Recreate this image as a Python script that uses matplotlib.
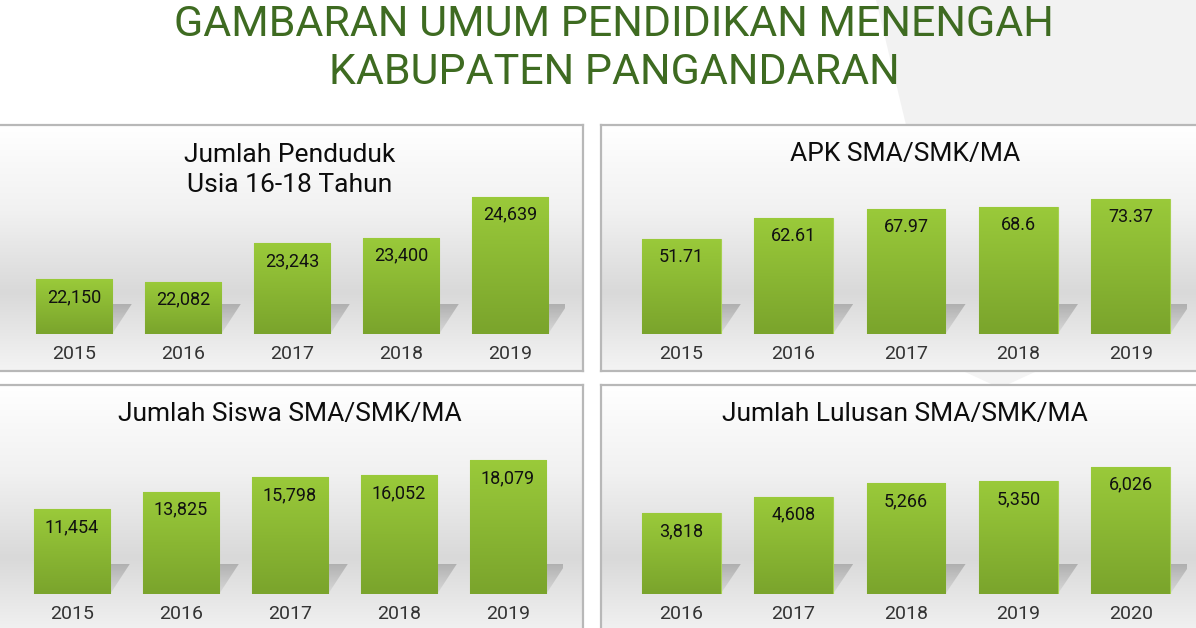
import numpy as np
import matplotlib
matplotlib.use("Agg")
import matplotlib.pyplot as plt
from matplotlib.colors import LinearSegmentedColormap
from matplotlib.patches import Polygon

plt.rcParams['font.family'] = ['Roboto', 'DejaVu Sans']

# ---- data ----
title_lines = ["GAMBARAN UMUM PENDIDIKAN MENENGAH", "KABUPATEN PANGANDARAN"]

penduduk_title = "Jumlah Penduduk\nUsia 16-18 Tahun"
penduduk_years = ["2015", "2016", "2017", "2018", "2019"]
penduduk_values = [22150, 22082, 23243, 23400, 24639]

apk_title = "APK SMA/SMK/MA"
apk_years = ["2015", "2016", "2017", "2018", "2019"]
apk_values = [51.71, 62.61, 67.97, 68.6, 73.37]

siswa_title = "Jumlah Siswa SMA/SMK/MA"
siswa_years = ["2015", "2016", "2017", "2018", "2019"]
siswa_values = [11454, 13825, 15798, 16052, 18079]

lulusan_title = "Jumlah Lulusan SMA/SMK/MA"
lulusan_years = ["2016", "2017", "2018", "2019", "2020"]
lulusan_values = [3818, 4608, 5266, 5350, 6026]

# ---- layout helpers (pixel coords, origin top-left) ----
W, H = 1196, 628


def rect(x0, y0, x1, y1):
    return [x0 / W, 1 - y1 / H, (x1 - x0) / W, (y1 - y0) / H]


bg_cmap = LinearSegmentedColormap.from_list(
    "panel", [(0.0, "#ffffff"), (0.35, "#f1f1f1"), (0.68, "#d9d9d9"), (1.0, "#f4f4f4")])
bar_cmap = LinearSegmentedColormap.from_list("bar", ["#9aca3a", "#7aa42c"])
shadow_cmap = LinearSegmentedColormap.from_list("shadow", ["#a8a8a8", "#d8d8d8"])

fig = plt.figure(figsize=(W / 100, H / 100), dpi=100)
fig.patch.set_facecolor("white")

# faint decorative shapes of the slide background
fig.add_artist(Polygon([(876 / W, 1.0), (1.0, 1.0), (1.0, 1 - 125 / H), (906 / W, 1 - 125 / H)],
                       closed=True, transform=fig.transFigure, facecolor="#f2f2f2",
                       edgecolor="none", zorder=0))
fig.add_artist(Polygon([(965 / W, 1 - 372 / H), (1035 / W, 1 - 372 / H), (1000 / W, 1 - 388 / H)],
                       closed=True, transform=fig.transFigure, facecolor="#f4f4f4",
                       edgecolor="none", zorder=0))

for i, line in enumerate(title_lines):
    fig.text(614 / W, 1 - (25 + i * 48) / H, line, ha="center", va="center",
             fontsize=31, color="#3e6b21")


def panel(box, plot_box, title, title_xy, years, values, ylim, fmt):
    # panel background with gradient and border
    bg = fig.add_axes(rect(*box))
    grad = np.linspace(0, 1, 256).reshape(-1, 1)
    bg.imshow(grad, cmap=bg_cmap, aspect="auto", extent=(0, 1, 0, 1))
    bg.set_xlim(0, 1)
    bg.set_ylim(0, 1)
    bg.set_xticks([])
    bg.set_yticks([])
    for sp in bg.spines.values():
        sp.set_color("#b8b8b8")
        sp.set_linewidth(1.6)

    fig.text(title_xy[0] / W, 1 - title_xy[1] / H, title, ha="center", va="center",
             fontsize=19, color="#0d0d0d", linespacing=1.35)

    ax = fig.add_axes(rect(*plot_box))
    ax.patch.set_alpha(0)
    x = np.arange(len(values))
    bars = ax.bar(x, values, width=0.7, color="#8cb834", edgecolor="#a6d04f",
                  linewidth=0.8, zorder=3)
    ax.set_xlim(-0.5, len(values) - 0.5)
    ax.set_ylim(*ylim)

    # shadow behind each bar (sheared base of the bar)
    y0 = ylim[0]
    sh_h = 30 / 144 * (ylim[1] - ylim[0])
    sh_dx = 0.18
    for b in bars:
        bx, bw = b.get_x(), b.get_width()
        top = min(y0 + sh_h, b.get_height())
        poly = Polygon([(bx, y0), (bx + bw, y0), (bx + bw + sh_dx, top), (bx + sh_dx, top)],
                       closed=True, facecolor="none", edgecolor="none", zorder=1)
        ax.add_patch(poly)
        im = ax.imshow(np.linspace(0, 1, 64).reshape(-1, 1), cmap=shadow_cmap, aspect="auto",
                       extent=(bx, bx + bw + sh_dx, y0, top), zorder=1, alpha=0.85)
        im.set_clip_path(poly)

    # gradient fill of bars
    for b in bars:
        bx, bw, bh = b.get_x(), b.get_width(), b.get_height()
        im = ax.imshow(np.linspace(0, 1, 128).reshape(-1, 1), cmap=bar_cmap, aspect="auto",
                       extent=(bx, bx + bw, ylim[0], bh), zorder=4)
        im.set_clip_path(b)

    ax.set_xlim(-0.5, len(values) - 0.5)
    ax.set_ylim(*ylim)

    for xi, v in zip(x, values):
        ax.annotate(fmt(v), (xi, v), xytext=(0, -18), textcoords="offset pixels",
                    ha="center", va="center", fontsize=13, color="#111111", zorder=6)

    ax.set_xticks(x, years)
    ax.tick_params(axis="x", length=0, pad=8, labelsize=14, labelcolor="#333333")
    ax.set_yticks([])
    for sp in ax.spines.values():
        sp.set_visible(False)


panel((-5, 125, 583, 371), (19.5, 190, 564.5, 334), penduduk_title, (290, 170),
      penduduk_years, penduduk_values, (20500, 24840), lambda v: f"{v:,}")
panel((601, 125, 1206, 371), (625, 190, 1187, 334), apk_title, (905, 154),
      apk_years, apk_values, (0, 78.0), lambda v: f"{v:g}")
panel((-5, 385, 583, 640), (17.5, 450, 562.5, 594), siswa_title, (290, 414),
      siswa_years, siswa_values, (0, 19430), lambda v: f"{v:,}")
panel((601, 385, 1206, 640), (625, 450, 1187, 594), lulusan_title, (905, 414),
      lulusan_years, lulusan_values, (0, 6825), lambda v: f"{v:,}")

fig.savefig("out.png", dpi=100)
